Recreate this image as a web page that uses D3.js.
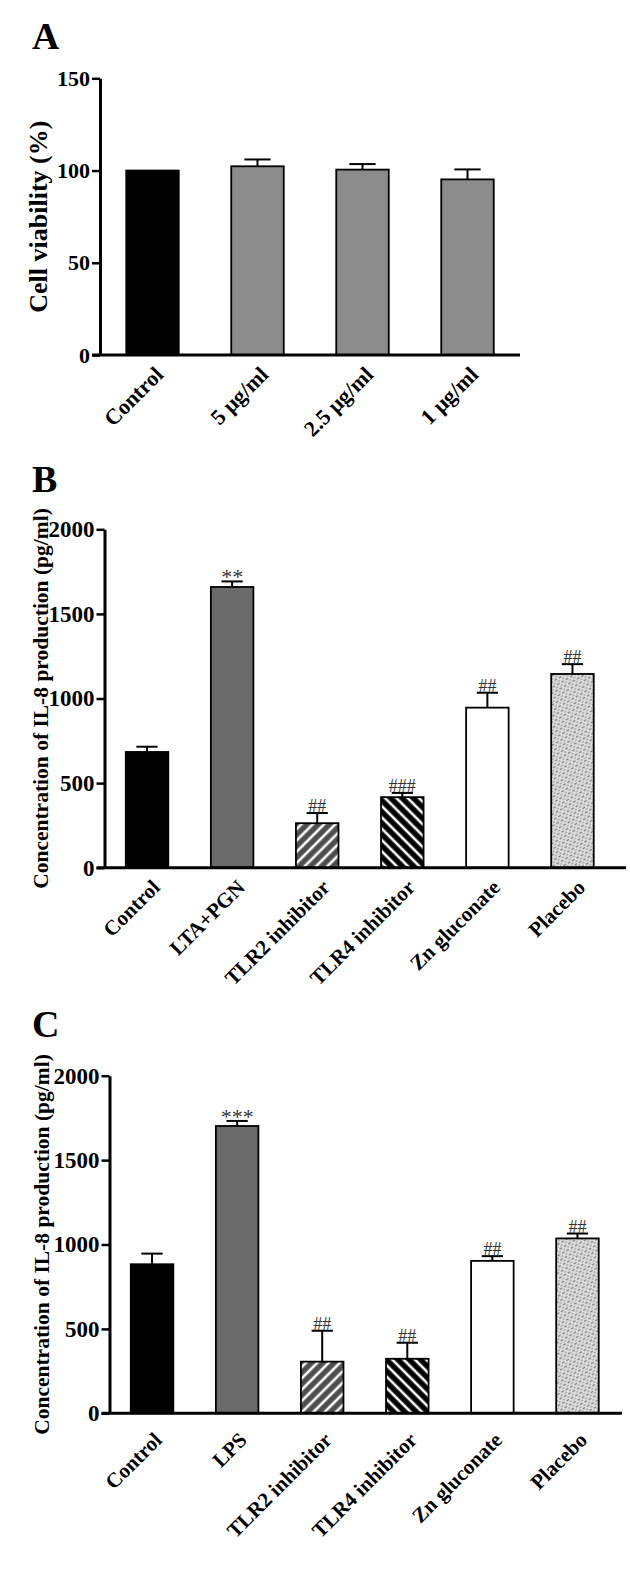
<!DOCTYPE html>
<html>
<head>
<meta charset="utf-8">
<script src="https://cdn.jsdelivr.net/npm/d3@7"></script>
<style>
  html, body { margin: 0; padding: 0; background: #fff; }
  svg { display: block; }
  text { font-family: "Liberation Serif", "Times New Roman", serif; }
</style>
</head>
<body>
<script>
// ---------- DATA ----------
const catsA = ["Control", "5 µg/ml", "2.5 µg/ml", "1 µg/ml"];
const valsA = [100, 102.3, 100.5, 95.2];
const errA  = [0, 3.7, 3.0, 5.4];
const ticksA = [0, 50, 100, 150];

const catsB = ["Control", "LTA+PGN", "TLR2 inhibitor", "TLR4 inhibitor", "Zn gluconate", "Placebo"];
const valsB = [684, 1659, 263, 417, 946, 1145];
const errB  = [31, 33, 60, 25, 88, 58];
const sigB  = ["", "**", "##", "###", "##", "##"];

const catsC = ["Control", "LPS", "TLR2 inhibitor", "TLR4 inhibitor", "Zn gluconate", "Placebo"];
const valsC = [883, 1702, 306, 323, 903, 1036];
const errC  = [63, 30, 183, 95, 28, 29];
const sigC  = ["", "***", "##", "##", "##", "##"];

const ticksBC = [0, 500, 1000, 1500, 2000];

// ---------- SVG ----------
const W = 630, H = 1578;
const svg = d3.select("body").append("svg").attr("width", W).attr("height", H);

const defs = svg.append("defs");
function stripe(id, bg, angle) {
  const p = defs.append("pattern").attr("id", id)
    .attr("patternUnits", "userSpaceOnUse")
    .attr("width", 8).attr("height", 8)
    .attr("patternTransform", `rotate(${angle})`);
  p.append("rect").attr("width", 8).attr("height", 8).attr("fill", bg);
  p.append("line").attr("x1", 4).attr("y1", 0).attr("x2", 4).attr("y2", 8)
    .attr("stroke", "#fff").attr("stroke-width", 2.6);
}
stripe("tlr2", "#4d4d4d", 45);
stripe("tlr4", "#000", -45);
{
  const p = defs.append("pattern").attr("id", "placebo")
    .attr("patternUnits", "userSpaceOnUse")
    .attr("width", 5).attr("height", 5)
    .attr("patternTransform", "rotate(-30)");
  p.append("rect").attr("width", 5).attr("height", 5).attr("fill", "#e2e2e2");
  p.append("line").attr("x1", 0).attr("y1", 1.5).attr("x2", 3).attr("y2", 1.5)
    .attr("stroke", "#808080").attr("stroke-width", 1.4);
  p.append("line").attr("x1", 2.5).attr("y1", 4).attr("x2", 5).attr("y2", 4)
    .attr("stroke", "#9a9a9a").attr("stroke-width", 1.2);
}

function panel(cfg) {
  const g = svg.append("g");
  const y = d3.scaleLinear().domain([0, cfg.ymax]).range([cfg.y0, cfg.y1]);
  const x = d3.scaleBand().domain(cfg.cats).range([cfg.x0, cfg.xEnd])
    .paddingInner(0.5).paddingOuter(0.25);

  // panel letter
  g.append("text").attr("x", 32).attr("y", cfg.letterY)
    .attr("font-size", 38).attr("font-weight", "bold").text(cfg.letter);

  // bars
  const bw = x.bandwidth();
  cfg.cats.forEach((c, i) => {
    const v = cfg.vals[i], e = cfg.errs[i];
    const cx = x(c) + bw / 2;
    if (e > 0) {
      g.append("line").attr("x1", cx).attr("x2", cx)
        .attr("y1", y(v)).attr("y2", y(v + e))
        .attr("stroke", "#000").attr("stroke-width", 2);
      g.append("line").attr("x1", cx - bw / 4).attr("x2", cx + bw / 4)
        .attr("y1", y(v + e)).attr("y2", y(v + e))
        .attr("stroke", "#000").attr("stroke-width", 2);
    }
    g.append("rect").attr("x", x(c)).attr("y", y(v))
      .attr("width", bw).attr("height", y(0) - y(v))
      .attr("fill", cfg.fills[i]).attr("stroke", "#000").attr("stroke-width", 1.8);
    if (cfg.sig && cfg.sig[i]) {
      const star = cfg.sig[i].startsWith("*");
      g.append("text").attr("x", cx).attr("y", y(v + e) - (star ? -3 : 1))
        .attr("text-anchor", "middle").attr("font-size", star ? 22 : 18)
        .attr("fill", "#333").text(cfg.sig[i]);
    }
  });

  // y axis
  const yAxis = g.append("g").attr("transform", `translate(${cfg.x0},0)`)
    .call(d3.axisLeft(y).tickValues(cfg.ticks).tickFormat(d3.format("d"))
      .tickSize(8).tickPadding(2).tickSizeOuter(0));
  yAxis.select(".domain").attr("stroke-width", 3);
  yAxis.selectAll(".tick line").attr("stroke-width", 2.5);
  yAxis.selectAll(".tick text").attr("font-size", cfg.tickSize).attr("font-weight", "bold")
    .attr("font-family", "Liberation Serif, serif").attr("fill", "#000");

  // x axis baseline
  g.append("line").attr("x1", cfg.x0 - 8).attr("x2", cfg.axisEnd)
    .attr("y1", y(0)).attr("y2", y(0)).attr("stroke", "#000").attr("stroke-width", 3);

  // x labels
  cfg.cats.forEach(c => {
    const cx = x(c) + bw / 2;
    g.append("text")
      .attr("transform", `translate(${cx + cfg.lblDx},${y(0) + cfg.lblDy}) rotate(-45)`)
      .attr("text-anchor", "end").attr("font-size", cfg.lblSize).attr("font-weight", "bold")
      .text(c);
  });

  // y title
  g.append("text")
    .attr("transform", `translate(${cfg.titleX},${(cfg.y0 + cfg.y1) / 2}) rotate(-90)`)
    .attr("text-anchor", "middle").attr("font-size", cfg.titleSize).attr("font-weight", "bold")
    .text(cfg.title);
}

panel({
  letter: "A", letterY: 49,
  cats: catsA, vals: valsA, errs: errA, sig: null,
  fills: ["#000", "#8c8c8c", "#8c8c8c", "#8c8c8c"],
  ymax: 150, ticks: ticksA, y0: 355, y1: 78.3, tickSize: 22,
  x0: 100, xEnd: 520, axisEnd: 520,
  lblDx: 12, lblDy: 21, lblSize: 22,
  title: "Cell viability (%)", titleX: 47, titleSize: 26
});

panel({
  letter: "B", letterY: 492,
  cats: catsB, vals: valsB, errs: errB, sig: sigB,
  fills: ["#000", "#6b6b6b", "url(#tlr2)", "url(#tlr4)", "#fff", "url(#placebo)"],
  ymax: 2000, ticks: ticksBC, y0: 867.7, y1: 529.3, tickSize: 23,
  x0: 104.5, xEnd: 615, axisEnd: 626,
  lblDx: 14, lblDy: 21, lblSize: 21,
  title: "Concentration of IL-8 production (pg/ml)", titleX: 48, titleSize: 21.5
});

panel({
  letter: "C", letterY: 1037,
  cats: catsC, vals: valsC, errs: errC, sig: sigC,
  fills: ["#000", "#6b6b6b", "url(#tlr2)", "url(#tlr4)", "#fff", "url(#placebo)"],
  ymax: 2000, ticks: ticksBC, y0: 1413.3, y1: 1075.7, tickSize: 23,
  x0: 109.5, xEnd: 620, axisEnd: 622,
  lblDx: 11, lblDy: 28, lblSize: 21,
  title: "Concentration of IL-8 production (pg/ml)", titleX: 49, titleSize: 21.5
});
</script>
</body>
</html>
